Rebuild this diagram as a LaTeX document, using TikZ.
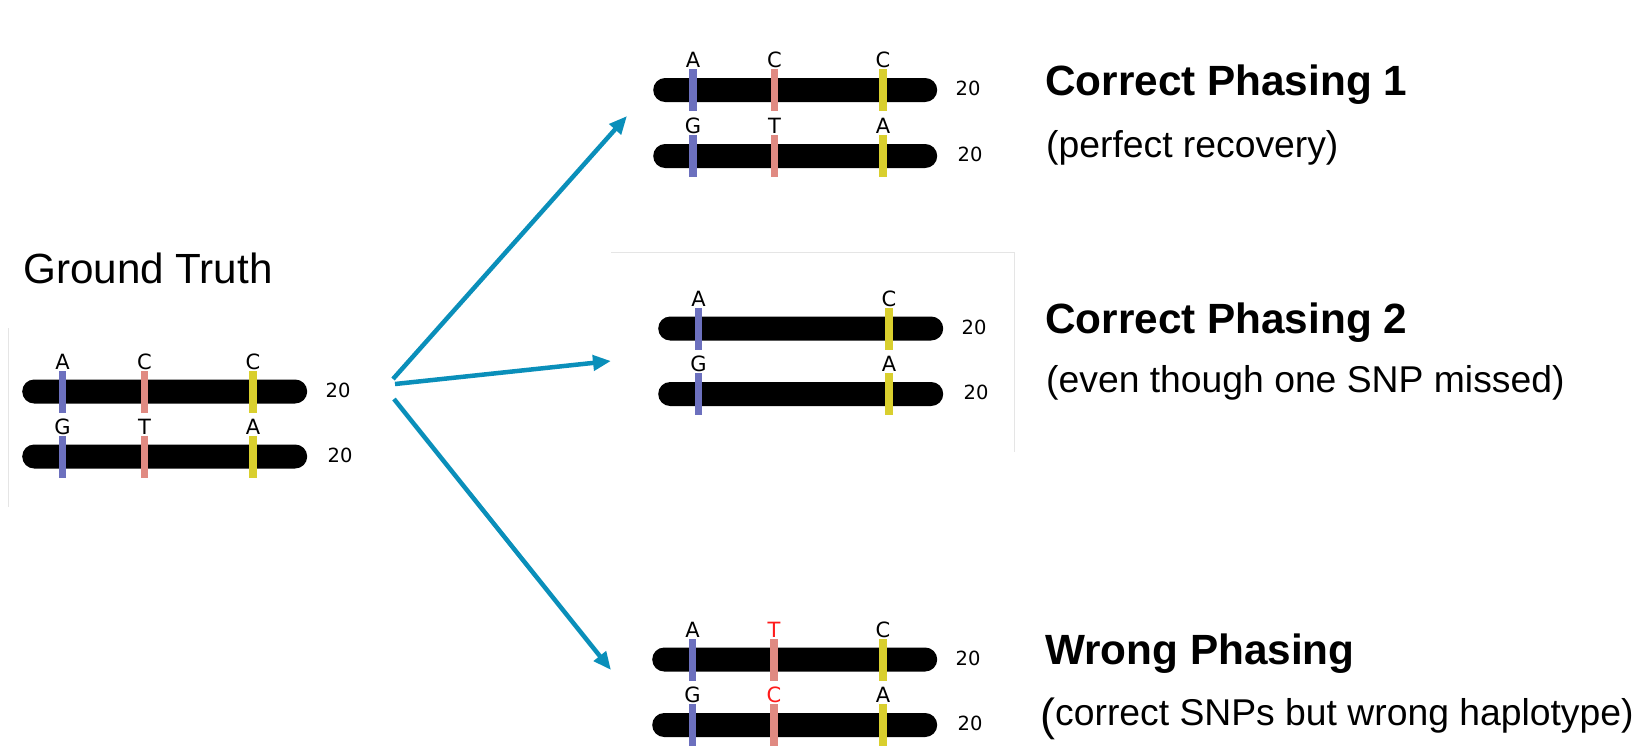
\documentclass[tikz,border=0pt]{standalone}
\usepackage{fontspec}
\setmainfont{Liberation Sans}
\newfontfamily\dejavu{DejaVu Sans}
\usetikzlibrary{arrows.meta}
\definecolor{snpblue}{HTML}{6C70BE}
\definecolor{snppink}{HTML}{E08A82}
\definecolor{snpyellow}{HTML}{D9CF2E}
\definecolor{arrowblue}{HTML}{0A8FBA}
\definecolor{wrongred}{HTML}{FF1A1A}
\tikzset{
  hbar/.style={fill=black, rounded corners=12pt, minimum height=24pt, inner sep=0pt, anchor=west},
  snpbar/.style={minimum width=7.5pt, minimum height=42pt, inner sep=0pt},
  snpletter/.style={font=\dejavu\fontsize{21}{21}\selectfont, inner sep=0pt, anchor=base},
  numlabel/.style={font=\dejavu\fontsize{19.5}{20}\selectfont, inner sep=0pt, anchor=west},
  headline/.style={font=\bfseries\fontsize{42.3}{46}\selectfont, inner sep=0pt, anchor=base west},
  subline/.style={font=\fontsize{37.3}{40}\selectfont, inner sep=0pt, anchor=base west},
  flow/.style={draw=arrowblue, line width=4.5pt, -{Triangle[length=18pt,width=15pt]}},
  faint/.style={draw=black!10, line width=0.8pt}
}
\newcommand{\hapbar}[5]{%
  \node[hbar, minimum width=#3pt] (#1) at (#2,#4) {};
  \node[numlabel] (#1-n) at ([xshift=#5pt, yshift=1.5pt]#1.east) {20};
}
\newcommand{\snpmark}[6]{%
  \node[snpbar, fill=#4] (#1) at (#2,#3) {};
  \node[snpletter, text=#6] (#1-l) at ([yshift=1pt]#1.north) {#5};
}
\begin{document}
\begin{tikzpicture}[x=1pt,y=-1pt]
\useasboundingbox[fill=white] (0,0) rectangle (1652,750);

% faint borders of pasted panels
\draw[faint] (8,328) -- (8,507);
\draw[faint] (611,252) -- (1014,252) -- (1014,452);

% Ground truth
\node[font=\fontsize{42.2}{46}\selectfont, inner sep=0pt, anchor=base west] (gtitle) at (23,283) {Ground Truth};
\hapbar{gt1}{22}{285}{391.5}{18}
\hapbar{gt2}{22}{285}{456.5}{20}
\snpmark{gt1a}{62.5}{391.5}{snpblue}{A}{black}
\snpmark{gt1b}{144.5}{391.5}{snppink}{C}{black}
\snpmark{gt1c}{253}{391.5}{snpyellow}{C}{black}
\snpmark{gt2a}{62.5}{456.5}{snpblue}{G}{black}
\snpmark{gt2b}{144.5}{456.5}{snppink}{T}{black}
\snpmark{gt2c}{253}{456.5}{snpyellow}{A}{black}

% Correct phasing 1
\hapbar{ca1}{653}{284}{90}{18}
\hapbar{ca2}{653}{284}{156}{20}
\snpmark{ca1a}{693}{90}{snpblue}{A}{black}
\snpmark{ca1b}{774.5}{90}{snppink}{C}{black}
\snpmark{ca1c}{883}{90}{snpyellow}{C}{black}
\snpmark{ca2a}{693}{156}{snpblue}{G}{black}
\snpmark{ca2b}{774.5}{156}{snppink}{T}{black}
\snpmark{ca2c}{883}{156}{snpyellow}{A}{black}
\node[headline] (catitle) at (1045,95) {Correct Phasing 1};
\node[subline] (casub) at (1046,157) {(perfect recovery)};

% Correct phasing 2
\hapbar{cb1}{658}{285}{328.5}{18}
\hapbar{cb2}{658}{285}{394}{20}
\snpmark{cb1a}{698.5}{328.5}{snpblue}{A}{black}
\snpmark{cb1c}{889}{328.5}{snpyellow}{C}{black}
\snpmark{cb2a}{698.5}{394}{snpblue}{G}{black}
\snpmark{cb2c}{889}{394}{snpyellow}{A}{black}
\node[headline] (cbtitle) at (1045,333) {Correct Phasing 2};
\node[subline] (cbsub) at (1046,392) {(even though one SNP missed)};

% Wrong phasing
\hapbar{wp1}{652}{285}{659.5}{18}
\hapbar{wp2}{652}{285}{725}{20}
\snpmark{wp1a}{692.5}{659.5}{snpblue}{A}{black}
\snpmark{wp1b}{774}{659.5}{snppink}{T}{wrongred}
\snpmark{wp1c}{883}{659.5}{snpyellow}{C}{black}
\snpmark{wp2a}{692.5}{725}{snpblue}{G}{black}
\snpmark{wp2b}{774}{725}{snppink}{C}{wrongred}
\snpmark{wp2c}{883}{725}{snpyellow}{A}{black}
\node[headline] (wptitle) at (1045,664) {Wrong Phasing};
\node[subline] (wpsub) at (1040,725) {\raisebox{-5pt}{\fontsize{45}{48}\selectfont(}correct SNPs but wrong haplotype)};

% arrows
\coordinate (o1) at (393,379);
\coordinate (t1) at (627,116);
\coordinate (o2) at (395,384);
\coordinate (t2) at (611,361);
\coordinate (o3) at (394,399);
\coordinate (t3) at (611,670);
\draw[flow] (o1) -- (t1);
\draw[flow] (o2) -- (t2);
\draw[flow] (o3) -- (t3);
\end{tikzpicture}
\end{document}
